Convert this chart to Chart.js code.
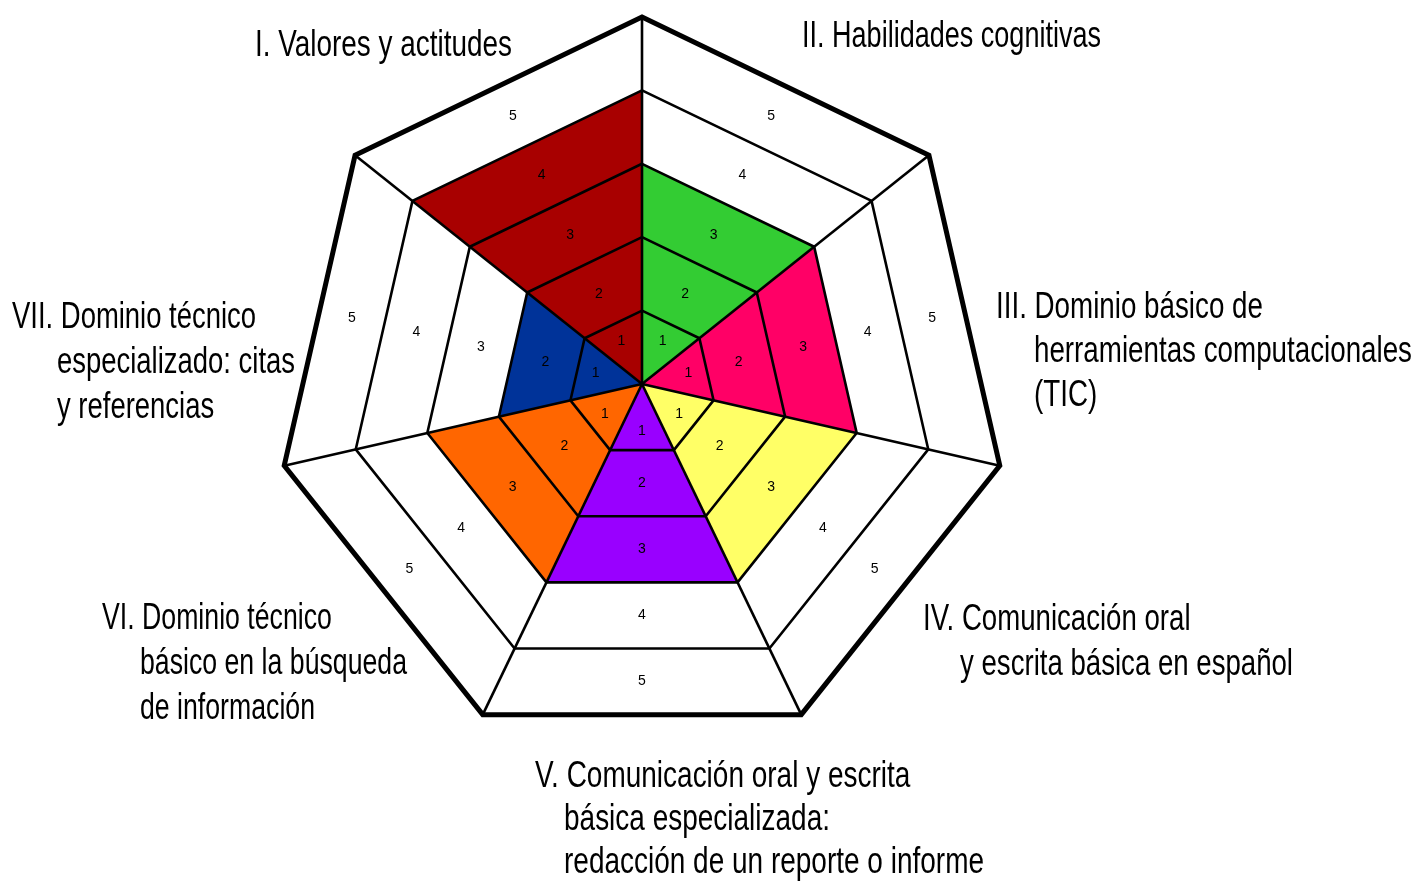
<!DOCTYPE html>
<html>
<head>
<meta charset="utf-8">
<script src="https://cdn.jsdelivr.net/npm/chart.js@4.4.1/dist/chart.umd.min.js"></script>
<style>
  html, body { margin: 0; padding: 0; background: #fff; }
  canvas { display: block; }
</style>
</head>
<body>
<canvas id="competencias" width="1421" height="881"></canvas>
<script>
// sector titles, one per wedge, clockwise starting with the wedge left of the top spoke
const sectorNames = [
  ['I. Valores y actitudes'],
  ['II. Habilidades cognitivas'],
  ['III. Dominio básico de', 'herramientas computacionales', '(TIC)'],
  ['IV. Comunicación oral', 'y escrita básica en español'],
  ['V. Comunicación oral y escrita', 'básica especializada:', 'redacción de un reporte o informe'],
  ['VI. Dominio técnico', 'básico en la búsqueda', 'de información'],
  ['VII. Dominio técnico', 'especializado: citas', 'y referencias']
];
// level reached in each wedge (scale 1-5)
const levelReached = [4, 3, 3, 3, 3, 3, 2];
const bandLabels = ['1', '2', '3', '4', '5'];
const sectorColors = ['#a80000', '#33cc33', '#ff0066', '#ffff66', '#9900ff', '#ff6600', '#003399'];

// title placement: left x, first baseline, indent of later lines, line height,
// and the width that line "wi" takes in the picture (font is condensed to it)
const nameLayout = [
  { x: 255, y: 56, indent: 0, lh: 44, wi: 0, w: 257 },
  { x: 802, y: 47, indent: 0, lh: 44, wi: 0, w: 299 },
  { x: 996, y: 318, indent: 38, lh: 44, wi: 1, w: 378 },
  { x: 923, y: 630, indent: 37, lh: 45, wi: 1, w: 333 },
  { x: 535, y: 787, indent: 29, lh: 43, wi: 2, w: 420 },
  { x: 102, y: 629, indent: 38, lh: 45, wi: 1, w: 267 },
  { x: 12, y: 328, indent: 45, lh: 45, wi: 1, w: 238 }
];

// each wedge sits between spoke j-1 and spoke j
const datasets = sectorNames.map((name, j) => {
  const data = new Array(7).fill(0);
  data[j] = levelReached[j];
  data[(j + 6) % 7] = levelReached[j];
  return {
    label: name.join(' '),
    data: data,
    backgroundColor: sectorColors[j],
    borderColor: sectorColors[j],
    borderWidth: 1,
    pointRadius: 0,
    fill: 'origin'
  };
});

const sectorText = {
  id: 'sectorText',
  afterDraw(chart) {
    const r = chart.scales.r;
    const ctx = chart.ctx;
    const step = r.getDistanceFromCenterForValue(1);
    const apothem = Math.cos(Math.PI / 7);
    ctx.save();
    ctx.fillStyle = '#000';

    // band numbers in the middle of each ring of each wedge
    ctx.font = '14px "Liberation Sans", Arial, sans-serif';
    ctx.textAlign = 'center';
    ctx.textBaseline = 'middle';
    sectorNames.forEach((n, j) => {
      bandLabels.forEach((b, k) => {
        const d = (k === 0 ? 0.72 : k + 0.5) * step * apothem;
        const p = r.getPointPosition(j - 0.5, d);
        ctx.fillText(b, p.x, p.y);
      });
    });

    // sector titles
    ctx.font = '37px "Liberation Sans", Arial, sans-serif';
    ctx.textAlign = 'left';
    ctx.textBaseline = 'alphabetic';
    sectorNames.forEach((lines, j) => {
      const L = nameLayout[j];
      const sx = L.w / ctx.measureText(lines[L.wi]).width;
      lines.forEach((t, i) => {
        ctx.save();
        ctx.translate(L.x + (i ? L.indent : 0), L.y + i * L.lh);
        ctx.scale(sx, 1);
        ctx.fillText(t, 0, 0);
        ctx.restore();
      });
    });
    ctx.restore();
  }
};

new Chart(document.getElementById('competencias'), {
  type: 'radar',
  data: {
    labels: sectorNames.map(n => n[0]),
    datasets: datasets
  },
  options: {
    responsive: false,
    animation: false,
    layout: {
      padding: { left: 275, right: 412, top: 17, bottom: 130 }
    },
    elements: {
      line: { tension: 0 }
    },
    plugins: {
      legend: { display: false },
      tooltip: { enabled: false }
    },
    scales: {
      r: {
        min: 0,
        max: 5,
        z: 1,
        ticks: { display: false, stepSize: 1 },
        pointLabels: { display: false },
        grid: {
          z: 1,
          color: '#000',
          lineWidth: c => c.index === 5 ? 5 : 2.6
        },
        angleLines: { color: '#000', lineWidth: 2.6 }
      }
    }
  },
  plugins: [sectorText]
});
</script>
</body>
</html>
